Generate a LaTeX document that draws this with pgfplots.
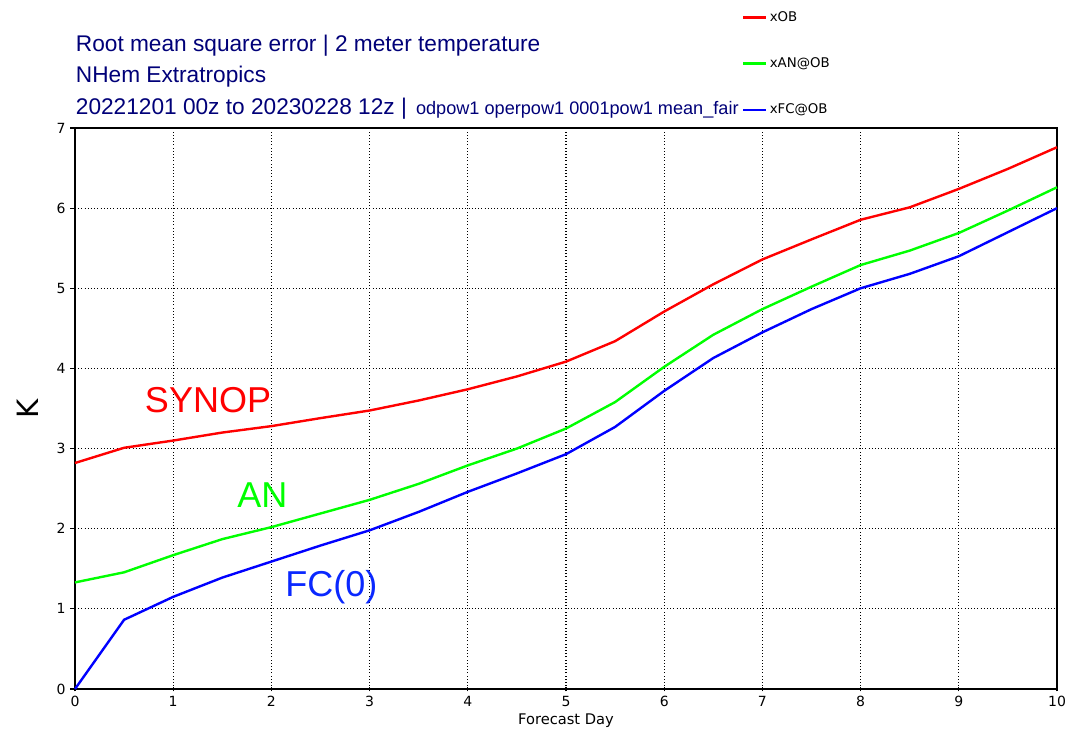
\documentclass[border=0pt]{standalone}
\usepackage{fontspec}
\setmainfont{Liberation Sans}
\newfontfamily\dejavu{DejaVu Sans}
\usepackage{pgfplots}
\pgfplotsset{compat=1.18}
\definecolor{navy}{RGB}{0,0,120}
\definecolor{fcblue}{RGB}{10,40,255}
\begin{document}
\begin{tikzpicture}[x=1pt,y=1pt]
\useasboundingbox (-56.25pt,-31.5pt) rectangle (743.25pt,516.75pt);
\begin{axis}[
  at={(0,0)}, anchor=south west,
  scale only axis, width=736.5pt, height=420.75pt,
  xmin=0, xmax=10, ymin=0, ymax=7,
  xtick={0,1,...,10}, ytick={0,1,...,7},
  xtick pos=bottom, ytick pos=left,
  grid=major,
  major grid style={black, dotted, line width=0.9pt},
  axis line style={black, line width=1pt},
  tick style={black, line width=0.8pt}, major tick length=3.5pt,
  xtick align=center, ytick align=outside,
  tick label style={font=\dejavu\fontsize{10.5}{12}\selectfont},
  /pgf/number format/assume math mode=true,
  xlabel={Forecast Day},
  xlabel style={font=\dejavu\fontsize{11}{12}\selectfont, at={(axis description cs:0.5,-0.056)}, anchor=center},
  ylabel={K},
  ylabel style={font=\dejavu\fontsize{22}{24}\selectfont, at={(axis description cs:-0.048,0.5)}, anchor=center},
  clip=false,
  legend style={at={(axis description cs:0.679,1.213)}, anchor=north west, draw=none, fill=none,
    font=\dejavu\fontsize{10}{12}\selectfont, row sep=21.8pt, inner sep=0pt},
  legend cell align=left,
  legend image code/.code={\draw[#1, line width=1.8pt] (0pt,0pt) -- (17pt,0pt);},
]
\addplot[red, line width=1.8pt] coordinates {
(0,2.82)(0.5,3.01)(1,3.10)(1.5,3.20)(2,3.28)(2.5,3.38)(3,3.475)(3.5,3.60)(4,3.74)(4.5,3.90)
(5,4.085)(5.5,4.34)(6,4.71)(6.5,5.05)(7,5.36)(7.5,5.61)(8,5.855)(8.5,6.01)(9,6.24)(9.5,6.49)(10,6.76)};
\addlegendentry{xOB}
\addplot[green, line width=1.8pt] coordinates {
(0,1.33)(0.5,1.456)(1,1.67)(1.5,1.87)(2,2.02)(2.5,2.19)(3,2.36)(3.5,2.56)(4,2.79)(4.5,3.00)
(5,3.25)(5.5,3.58)(6,4.02)(6.5,4.42)(7,4.74)(7.5,5.02)(8,5.29)(8.5,5.47)(9,5.69)(9.5,5.97)(10,6.26)};
\addlegendentry{xAN@OB}
\addplot[blue, line width=1.8pt] coordinates {
(0,0)(0.5,0.864)(1,1.15)(1.5,1.39)(2,1.59)(2.5,1.79)(3,1.98)(3.5,2.21)(4,2.46)(4.5,2.69)
(5,2.93)(5.5,3.27)(6,3.72)(6.5,4.13)(7,4.45)(7.5,4.74)(8,5.00)(8.5,5.18)(9,5.40)(9.5,5.70)(10,6.00)};
\addlegendentry{xFC@OB}
\node[anchor=west, text=red, font=\fontsize{27}{30}\selectfont, inner sep=0pt] at (axis cs:0.71,3.61) {SYNOP};
\node[anchor=west, text=green, font=\fontsize{27}{30}\selectfont, inner sep=0pt] at (axis cs:1.65,2.42) {AN};
\node[anchor=west, text=fcblue, font=\fontsize{27}{30}\selectfont, inner sep=0pt] at (axis cs:2.14,1.27) {FC(0)};
\end{axis}
\node[anchor=base west, inner sep=0pt, text=navy, font=\fontsize{17}{20}\selectfont] at (0.5pt,477.75pt) {Root mean square error | 2 meter temperature};
\node[anchor=base west, inner sep=0pt, text=navy, font=\fontsize{17}{20}\selectfont] at (0.5pt,454.5pt) {NHem Extratropics};
\node[anchor=base west, inner sep=0pt, text=navy, font=\fontsize{17}{20}\selectfont] at (0.5pt,430.5pt) {20221201 00z to 20230228 12z |\hspace{0.4em}{\fontsize{13.6}{16}\selectfont odpow1 operpow1 0001pow1 mean\_fair}};
\end{tikzpicture}
\end{document}
